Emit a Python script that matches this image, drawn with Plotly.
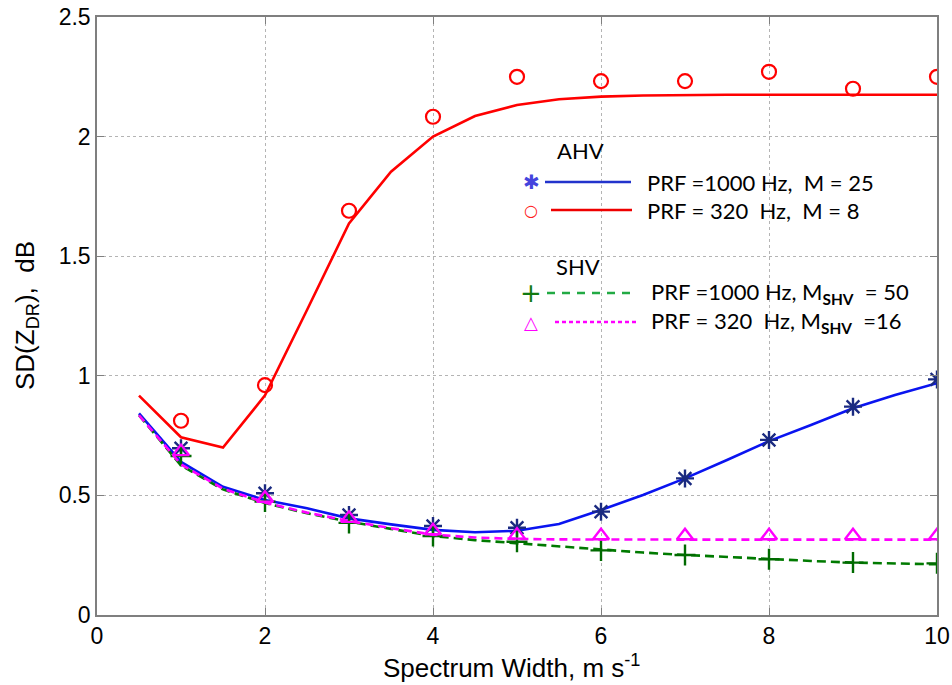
import plotly.graph_objects as go

# ---------------- data ----------------
x_theory = [0.5, 1.0, 1.5, 2.0, 2.5, 3.0, 3.5, 4.0, 4.5, 5.0,
            5.5, 6.0, 6.5, 7.0, 7.5, 8.0, 8.5, 9.0, 9.5, 10.0]
x_sim = [1, 2, 3, 4, 5, 6, 7, 8, 9, 10]

# AHV, PRF = 320 Hz, M = 8
red_theory = [0.917, 0.743, 0.700, 0.918, 1.275, 1.637, 1.853, 2.000, 2.086, 2.132,
              2.156, 2.167, 2.172, 2.175, 2.175, 2.175, 2.175, 2.175, 2.175, 2.175]
red_sim = [0.812, 0.961, 1.690, 2.083, 2.250, 2.232, 2.232, 2.271, 2.200, 2.250]

# AHV, PRF = 1000 Hz, M = 25
blue_theory = [0.843, 0.640, 0.536, 0.481, 0.446, 0.404, 0.379, 0.356, 0.346, 0.352,
               0.380, 0.439, 0.502, 0.571, 0.648, 0.727, 0.794, 0.864, 0.920, 0.969]
blue_sim = [0.697, 0.509, 0.418, 0.372, 0.365, 0.432, 0.571, 0.732, 0.871, 0.985]

# SHV, PRF = 1000 Hz, M_SHV = 50
green_theory = [0.835, 0.625, 0.525, 0.468, 0.425, 0.390, 0.360, 0.330, 0.313, 0.300,
                0.286, 0.272, 0.261, 0.251, 0.242, 0.233, 0.226, 0.219, 0.215, 0.212]
green_sim = [0.665, 0.474, 0.385, 0.330, 0.306, 0.270, 0.251, 0.233, 0.219, 0.216]

# SHV, PRF = 320 Hz, M_SHV = 16
mag_theory = [0.835, 0.630, 0.528, 0.470, 0.428, 0.393, 0.363, 0.336, 0.324, 0.318,
              0.316, 0.315, 0.315, 0.315, 0.315, 0.315, 0.315, 0.315, 0.315, 0.315]
mag_sim = [0.683, 0.488, 0.404, 0.352, 0.334, 0.331, 0.331, 0.331, 0.331, 0.331]

x_ticks = [0, 2, 4, 6, 8, 10]
y_ticks = [0, 0.5, 1, 1.5, 2, 2.5]
y_tick_text = ["0", "0.5", "1", "1.5", "2", "2.5"]

# ---------------- figure ----------------
fig = go.Figure()

fig.add_trace(go.Scatter(x=x_theory, y=red_theory, mode="lines",
                         line=dict(color="#ff0000", width=2.6), showlegend=False))
fig.add_trace(go.Scatter(x=x_sim, y=red_sim, mode="markers",
                         marker=dict(symbol="circle-open", size=14, color="#ff0000",
                                     line=dict(width=2.2, color="#ff0000")), showlegend=False))
fig.add_trace(go.Scatter(x=x_theory, y=blue_theory, mode="lines",
                         line=dict(color="#0a14f0", width=2.6), showlegend=False))
fig.add_trace(go.Scatter(x=x_sim, y=blue_sim, mode="markers",
                         marker=dict(symbol="asterisk-open", size=15, color="#1a2a80",
                                     line=dict(width=2.4, color="#1a2a80")), showlegend=False))
fig.add_trace(go.Scatter(x=x_theory, y=green_theory, mode="lines",
                         line=dict(color="#007a00", width=2.6, dash="9px,5px"), showlegend=False))
fig.add_trace(go.Scatter(x=x_sim, y=green_sim, mode="markers",
                         marker=dict(symbol="cross-thin-open", size=15, color="#006a00",
                                     line=dict(width=2.4, color="#006a00")), showlegend=False))
fig.add_trace(go.Scatter(x=x_theory, y=mag_theory, mode="lines",
                         line=dict(color="#ff00ff", width=2.6, dash="8px,5px"), showlegend=False))
fig.add_trace(go.Scatter(x=x_sim, y=mag_sim, mode="markers",
                         marker=dict(symbol="triangle-up-open", size=14, color="#ff00ff",
                                     line=dict(width=2.4, color="#ff00ff")), showlegend=False))

# ---------------- manual legend (paper coords) ----------------
L, R, T, B = 97, 937, 17, 615
W, H = R - L, B - T
FIG_W, FIG_H = 952, 685


def px(xp):
    return (xp - L) / W


def py(yp):
    return (B - yp) / H


shapes = []
annotations = []
leg_font = dict(family="Lato, 'Open Sans', sans-serif", size=22, color="black")

rows = [
    ("✱", "#4444dd", 182, 20, "#2233cc", "solid", 545, 631, "PRF =1000 Hz,  M = 25", 645),
    ("○", "#ff2020", 210, 16, "#ee0000", "solid", 551, 632, "PRF = 320  Hz,  M = 8", 645),
    ("+", "#117a11", 293, 26, "#22aa44", "dash", 547, 635,
     "PRF =1000 Hz, M<sub><b>SHV</b></sub>  = 50", 649),
    ("△", "#ff00ff", 322, 18, "#ff00ff", "dot", 555, 637,
     "PRF = 320  Hz, M<sub><b>SHV</b></sub>  =16", 649),
]
for glyph, mcol, yrow, gsize, lcol, dash, x0, x1, txt, tx in rows:
    shapes.append(dict(type="line", xref="paper", yref="paper",
                       x0=px(x0), x1=px(x1), y0=py(yrow), y1=py(yrow),
                       line=dict(color=lcol, width=2.6,
                                 dash={"solid": "solid", "dash": "8px,7px", "dot": "4px,3px"}[dash])))
    annotations.append(dict(xref="paper", yref="paper", x=px(531), y=py(yrow),
                            text=glyph, showarrow=False, xanchor="center", yanchor="middle",
                            font=dict(family="DejaVu Sans", size=gsize, color=mcol)))
    annotations.append(dict(xref="paper", yref="paper", x=px(tx), y=py(yrow),
                            text=txt, showarrow=False, xanchor="left", yanchor="middle",
                            font=leg_font))

annotations.append(dict(xref="paper", yref="paper", x=px(580), y=py(151), text="AHV",
                        showarrow=False, xanchor="center", yanchor="middle", font=leg_font))
annotations.append(dict(xref="paper", yref="paper", x=px(578), y=py(266), text="SHV",
                        showarrow=False, xanchor="center", yanchor="middle", font=leg_font))

# axis titles
axis_font = dict(family="Liberation Sans, Arial, sans-serif", size=26, color="black")
annotations.append(dict(xref="paper", yref="paper", x=px(511), y=py(666),
                        text="Spectrum Width, m s<sup>-1</sup>", showarrow=False,
                        xanchor="center", yanchor="middle", font=axis_font))
annotations.append(dict(xref="paper", yref="paper", x=px(26), y=py(316),
                        text="SD(Z<sub>DR</sub>),  dB", showarrow=False, textangle=-90,
                        xanchor="center", yanchor="middle", font=axis_font))

fig.update_layout(
    width=FIG_W, height=FIG_H,
    margin=dict(l=L, r=FIG_W - R, t=T, b=FIG_H - B, pad=0),
    paper_bgcolor="white", plot_bgcolor="white",
    shapes=shapes, annotations=annotations,
    showlegend=False,
)

common = dict(showline=True, linecolor="#7f7f7f", linewidth=1.5, mirror="ticks",
              ticks="inside", ticklen=7, tickcolor="#7f7f7f", tickwidth=1.3,
              showgrid=True, gridcolor="#b4b4b4", gridwidth=1, griddash="dot",
              zeroline=False, automargin=False, ticklabeloverflow="allow",
              tickfont=dict(family="Liberation Sans, Arial, sans-serif", size=23, color="black"))

fig.update_xaxes(range=[0, 10], tickvals=x_ticks, ticktext=[str(v) for v in x_ticks], **common)
fig.update_yaxes(range=[0, 2.5], tickvals=y_ticks, ticktext=y_tick_text, **common)

fig.write_html("out.html", config={"displayModeBar": False},
               post_script="document.body.style.margin='0px';")
